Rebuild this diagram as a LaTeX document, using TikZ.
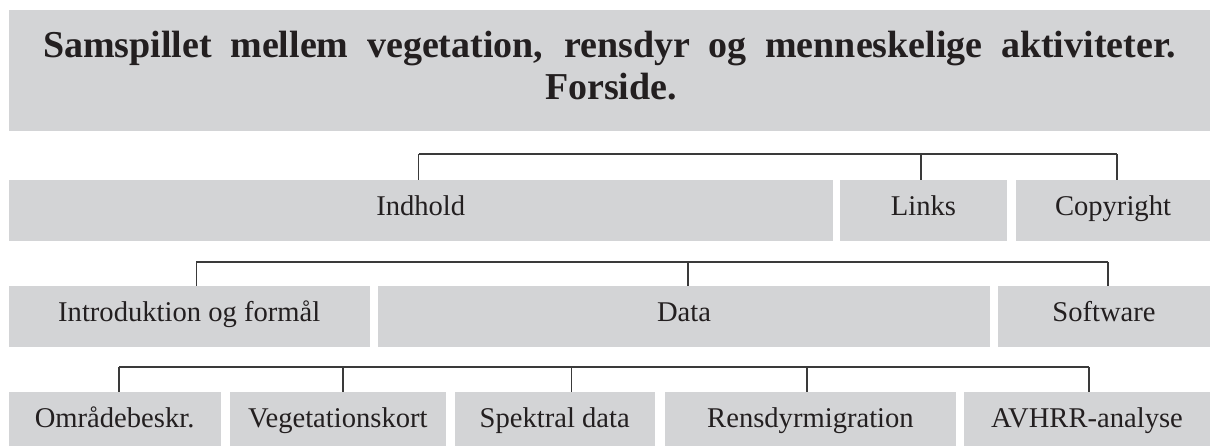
\documentclass[tikz,border=0pt]{standalone}
\usepackage{fontspec}
\setmainfont{Liberation Serif}
\definecolor{boxgray}{RGB}{211,212,214}
\definecolor{linkgray}{RGB}{58,58,58}
\definecolor{inkcol}{RGB}{35,31,32}
\newcommand{\headfont}{\bfseries\fontsize{19}{23}\selectfont}
\tikzset{
  box/.style={fill=boxgray, inner sep=0pt, minimum height=30.5pt, text=inkcol,
    text height=0.7em, text depth=0.2em, font=\fontsize{14.3}{17}\selectfont},
  link/.style={draw=linkgray, line width=0.7pt},
}
\begin{document}
\begin{tikzpicture}[x=0.5pt,y=-0.5pt]
\useasboundingbox[fill=white] (0,0) rectangle (1210,445);
\clip (0,0) rectangle (1210,445);

% title
\node[fill=boxgray, inner sep=0pt, minimum width=600.75pt, minimum height=60.5pt] (title) at (609.25,70.5) {};
\node[anchor=base, inner sep=0pt, text=inkcol, font=\headfont] (titleA) at (609.5,57)
  {\makebox[566.5pt][s]{Samspillet mellem vegetation, rensdyr og menneskelige aktiviteter.}};
\node[anchor=base, inner sep=0pt, text=inkcol, font=\headfont] (titleB) at (611,99) {Forside.};

% first row
\node[box, minimum width=412.25pt] (indhold) at (420.75,210.5) {Indhold};
\node[box, minimum width=83.5pt] (links) at (923.5,210.5) {Links};
\node[box, minimum width=97pt] (copyright) at (1113,210.5) {Copyright};

% second row
\node[box, minimum width=180.75pt] (intro) at (189.25,316.5) {Introduktion og formål};
\node[box, minimum width=306pt] (data) at (684,316.5) {Data};
\node[box, minimum width=106pt] (software) at (1104,316.5) {Software};

% third row
\node[box, minimum width=106.1pt] (omraade) at (114.6,422.5) {Områdebeskr.};
\node[box, minimum width=107.8pt] (vegkort) at (337.8,422.5) {Vegetationskort};
\node[box, minimum width=100.25pt] (spektral) at (554.75,422.5) {Spektral data};
\node[box, minimum width=145.5pt] (rensdyr) at (810.5,422.5) {Rensdyrmigration};
\node[box, minimum width=123pt] (avhrr) at (1087,422.5) {AVHRR-analyse};

% connectors
\coordinate (bar1) at (0,154);
\coordinate (bar2) at (0,262);
\coordinate (bar3) at (0,367);

\draw[link] ([xshift=-1pt]indhold.north |- bar1) -- ([xshift=2pt]copyright.north |- bar1);
\foreach \n/\dx in {indhold/-1, links/-1.25, copyright/2}
  \draw[link] ([xshift=\dx pt]\n.north) -- ([xshift=\dx pt]\n.north |- bar1);

\draw[link] ([xshift=3.5pt]intro.north |- bar2) -- ([xshift=2pt]software.north |- bar2);
\foreach \n/\dx in {intro/3.5, data/2, software/2}
  \draw[link] ([xshift=\dx pt]\n.north) -- ([xshift=\dx pt]\n.north |- bar2);

\draw[link] ([xshift=2.2pt]omraade.north |- bar3) -- ([xshift=1pt]avhrr.north |- bar3);
\foreach \n/\dx in {omraade/2.2, vegkort/2.5, spektral/8.5, rensdyr/-1.75, avhrr/1}
  \draw[link] ([xshift=\dx pt]\n.north) -- ([xshift=\dx pt]\n.north |- bar3);
\end{tikzpicture}
\end{document}
